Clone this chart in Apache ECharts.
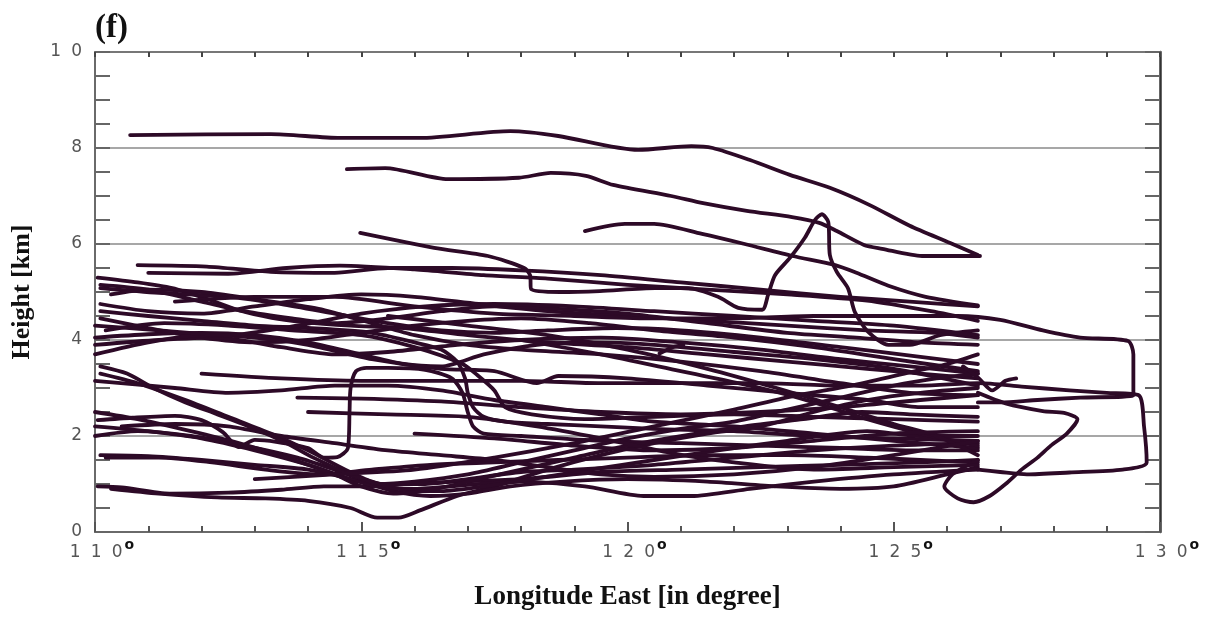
<!DOCTYPE html>
<html><head><meta charset="utf-8">
<script src="https://cdn.jsdelivr.net/npm/echarts@6/dist/echarts.min.js"></script>
<style>html,body{margin:0;padding:0;background:#fff}#c{width:1209px;height:622px}</style>
</head><body><div id="c"></div>
<script>
// ---- tick labels ----
const xTickValues = [110, 115, 120, 125, 130];
const yTickValues = [0, 2, 4, 6, 8, 10];
const titleText = '(f)';
const xAxisTitle = 'Longitude East [in degree]';
const yAxisTitle = 'Height [km]';

// ---- trajectories: [longitude East (deg), height (km)] ----
const traj01 = [[110.66,8.27],[113.3,8.29],[114.6,8.21],[116.1,8.21],[117.8,8.35],[118.7,8.25],[120.2,7.96],[121.2,8.04],[121.6,8.0],[122.3,7.75],[123.05,7.44],[123.8,7.17],[124.55,6.81],[125.3,6.38],[126.06,6.02],[126.58,5.77]];
const traj02 = [[114.73,7.56],[115.45,7.58],[116.63,7.35],[117.96,7.38],[118.56,7.48],[119.22,7.42],[119.73,7.23],[120.82,7.0],[121.42,6.85],[122.24,6.69],[123.09,6.56],[123.6,6.44],[123.93,6.27],[124.44,5.98],[124.78,5.9],[125.53,5.75],[126.62,5.75]];
const traj03 = [[119.2,6.27],[119.95,6.42],[120.5,6.42],[121.4,6.21],[122.2,6.0],[123.1,5.75],[123.9,5.56],[124.3,5.4],[124.9,5.13],[125.6,4.9],[126.58,4.72]];
const traj04 = [[114.98,6.23],[116.37,5.92],[117.38,5.75],[118.06,5.5],[118.17,5.35],[118.19,5.06],[118.73,5.0],[119.48,5.02],[120.52,5.08],[121.14,5.08],[121.7,4.9],[122.08,4.67],[122.53,4.63],[122.64,4.94],[122.77,5.35],[123.05,5.71],[123.33,6.13],[123.52,6.5],[123.65,6.62],[123.77,6.46],[123.8,5.77],[123.93,5.42],[124.14,5.08],[124.27,4.58],[124.52,4.17],[124.9,3.9],[125.3,3.9],[125.87,4.1],[126.58,4.2]];
const traj05 = [[110.8,5.56],[112.1,5.53],[113.3,5.42],[114.5,5.4],[115.5,5.5],[116.7,5.5],[118.0,5.45],[119.5,5.35],[121.0,5.2],[122.5,5.05],[124.0,4.9],[125.3,4.8],[126.58,4.7]];
const traj06 = [[111.0,5.4],[112.5,5.38],[113.6,5.5],[114.6,5.55],[116.0,5.47],[117.3,5.35],[118.5,5.28],[120.0,5.15],[121.5,5.05],[123.0,4.95],[124.5,4.82],[125.7,4.6],[126.58,4.4]];
const traj07 = [[110.05,5.3],[110.8,5.2],[111.45,5.08],[112.07,4.87],[112.7,4.62],[113.32,4.46],[113.85,4.38],[114.8,4.3],[115.8,4.25],[117.0,4.1],[118.5,3.95],[120.0,3.85],[121.5,3.7],[123.0,3.55],[124.5,3.4],[125.5,3.3],[126.58,3.2]];
const traj08 = [[110.1,5.08],[111.2,4.98],[112.5,4.9],[113.5,4.75],[114.5,4.55],[115.5,4.35],[116.5,4.2],[117.5,4.15],[118.5,4.2],[119.8,4.25],[121.0,4.2],[122.5,4.05],[124.0,3.85],[125.5,3.65],[126.58,3.5]];
const traj09 = [[110.3,4.95],[111.0,5.05],[112.0,5.0],[113.0,4.85],[114.2,4.65],[115.2,4.35],[116.0,4.1],[117.0,3.9],[118.0,3.8],[119.5,3.7],[121.0,3.55],[122.5,3.35],[124.0,3.1],[125.3,2.9],[126.58,2.85]];
const traj10 = [[110.1,4.75],[111.0,4.6],[112.0,4.55],[113.0,4.7],[114.0,4.85],[115.0,4.95],[116.0,4.9],[117.2,4.75],[118.5,4.6],[120.0,4.5],[121.5,4.4],[123.0,4.3],[124.5,4.2],[125.8,4.15],[126.58,4.05]];
const traj11 = [[110.1,4.45],[111.0,4.25],[112.0,4.05],[113.0,3.95],[114.0,4.0],[115.0,4.15],[116.0,4.3],[117.0,4.4],[118.0,4.45],[119.3,4.35],[120.5,4.2],[122.0,4.05],[123.5,3.85],[125.0,3.6],[126.58,3.35]];
const traj12 = [[110.0,4.05],[111.0,4.12],[112.0,4.15],[113.0,4.1],[114.0,3.95],[115.0,3.7],[115.8,3.5],[116.5,3.45],[117.3,3.7],[118.3,3.9],[119.3,3.95],[120.5,3.9],[122.0,3.75],[123.5,3.6],[125.0,3.4],[126.58,3.05]];
const traj13 = [[110.0,3.9],[111.2,4.0],[112.3,4.05],[113.5,3.85],[114.5,3.7],[115.5,3.75],[116.8,3.9],[118.0,4.0],[119.5,4.05],[121.0,3.95],[122.5,3.8],[124.0,3.6],[125.3,3.45],[126.58,3.3]];
const traj14 = [[110.0,3.7],[111.0,3.95],[112.0,4.1],[113.0,4.05],[114.0,3.9],[115.2,3.6],[116.5,3.4],[117.5,3.35],[118.3,3.1],[118.7,3.25],[120.0,3.2],[121.5,3.05],[123.0,2.9],[124.5,2.75],[125.5,2.6],[126.58,2.6]];
const traj15 = [[110.1,4.6],[111.0,4.5],[112.0,4.4],[113.0,4.3],[114.0,4.25],[115.2,4.15],[116.0,3.95],[116.5,3.8],[116.8,3.55],[116.95,3.2],[117.0,2.9],[117.1,2.6],[117.3,2.4],[117.7,2.3],[118.5,2.25],[119.5,2.2],[120.5,2.15],[122.0,2.1],[123.5,2.0],[125.0,1.95],[126.58,1.9]];
const traj16 = [[110.2,4.2],[111.3,4.35],[112.5,4.3],[113.7,4.2],[115.0,4.1],[116.0,3.85],[116.9,3.5],[117.2,3.25],[117.5,2.95],[117.7,2.6],[118.2,2.45],[119.2,2.35],[120.5,2.4],[122.0,2.45],[123.5,2.4],[125.0,2.35],[126.58,2.3]];
const traj17 = [[110.05,2.33],[110.7,2.38],[111.5,2.42],[112.0,2.33],[112.4,2.08],[112.7,1.77],[113.0,1.92],[113.4,1.88],[114.0,1.75],[114.3,1.55],[114.55,1.56],[114.75,1.75],[114.78,2.5],[114.8,3.0],[114.9,3.35],[115.1,3.42],[115.5,3.42],[116.2,3.38],[116.7,3.2],[116.9,2.9],[117.0,2.5],[117.1,2.2],[117.3,2.05],[118.0,2.0],[119.5,1.9],[121.0,1.85],[122.5,1.8],[124.0,1.75],[125.5,1.7],[126.58,1.7]];
const traj18 = [[110.05,0.95],[110.5,0.93],[111.4,0.8],[112.5,0.82],[113.5,0.88],[114.3,0.95],[115.0,0.95],[115.8,1.0],[116.8,1.05],[118.0,1.1],[119.5,1.25],[121.0,1.3],[122.5,1.35],[124.0,1.4],[125.5,1.45],[126.58,1.5]];
const traj19 = [[110.3,0.9],[111.2,0.8],[112.3,0.72],[113.2,0.7],[114.0,0.65],[114.8,0.5],[115.3,0.3],[115.7,0.3],[116.1,0.45],[116.8,0.75],[117.5,0.95],[118.5,1.3],[119.5,1.6],[120.5,1.85],[121.5,2.05],[122.5,2.2],[123.5,2.5],[124.5,2.75],[125.5,2.9],[126.58,3.0]];
const traj20 = [[110.1,1.6],[111.0,1.58],[112.0,1.5],[113.0,1.4],[114.0,1.3],[115.0,1.05],[115.6,0.85],[116.3,0.75],[117.0,0.8],[117.8,0.95],[118.8,1.05],[120.0,1.1],[121.5,1.05],[122.8,0.95],[124.0,0.9],[125.0,0.95],[126.0,1.2],[126.58,1.35]];
const traj21 = [[110.0,2.2],[111.0,2.1],[112.0,1.95],[113.0,1.7],[114.0,1.4],[114.8,1.1],[115.3,0.95],[116.0,0.9],[117.0,0.98],[118.0,1.05],[119.2,0.95],[120.3,0.75],[121.2,0.75],[122.3,0.9],[123.5,1.05],[125.0,1.2],[126.58,1.3]];
const traj22 = [[110.0,2.0],[110.8,2.1],[111.8,2.0],[112.8,1.8],[113.8,1.55],[114.5,1.3],[115.0,1.1],[115.3,1.0],[116.0,1.05],[117.0,1.2],[118.0,1.45],[119.0,1.7],[120.0,1.95],[121.0,2.15],[122.0,2.3],[123.0,2.55],[124.0,2.8],[125.0,3.05],[125.8,3.2],[126.58,3.3]];
const traj23 = [[110.1,3.3],[110.8,3.1],[111.7,2.75],[112.5,2.4],[113.3,2.05],[114.0,1.7],[114.7,1.3],[115.2,1.05],[115.8,0.88],[116.5,0.85],[117.3,0.95],[118.2,1.1],[119.3,1.3],[120.5,1.5],[121.7,1.7],[123.0,1.9],[124.5,2.1],[125.5,2.0],[126.58,2.0]];
const traj24 = [[110.1,3.45],[110.6,3.3],[111.1,3.0],[111.7,2.7],[112.3,2.45],[113.0,2.15],[113.6,1.85],[114.1,1.55],[114.8,1.2],[115.4,1.0],[116.2,1.0],[117.0,1.1],[118.0,1.25],[119.0,1.3],[120.5,1.4],[122.0,1.55],[123.5,1.7],[125.0,1.8],[126.58,1.85]];
const traj25 = [[110.0,2.5],[110.8,2.35],[111.8,2.1],[112.7,1.85],[113.6,1.55],[114.5,1.2],[115.0,0.95],[115.6,0.8],[116.4,0.9],[117.2,1.1],[118.0,1.3],[119.0,1.55],[120.0,1.8],[121.0,2.0],[122.2,2.2],[123.3,2.35],[124.4,2.5],[125.3,2.45],[126.58,2.4]];
const traj26 = [[110.2,1.55],[111.2,1.55],[112.2,1.45],[113.2,1.3],[114.2,1.2],[115.2,1.3],[116.3,1.4],[117.5,1.45],[118.7,1.5],[120.0,1.55],[121.5,1.6],[123.0,1.6],[124.5,1.55],[125.5,1.5],[126.58,1.45]];
const traj27 = [[113.8,2.8],[115.0,2.78],[116.5,2.72],[118.0,2.6],[119.5,2.5],[121.0,2.45],[122.5,2.5],[124.0,2.6],[125.5,2.75],[126.58,2.85]];
const traj28 = [[110.0,3.15],[111.5,3.0],[112.5,2.9],[113.5,2.95],[114.5,3.05],[115.5,3.05],[116.5,2.95],[117.5,2.75],[118.5,2.6],[119.5,2.45],[120.5,2.3],[122.0,2.2],[123.5,2.05],[125.0,1.9],[126.58,1.75]];
const traj29 = [[111.5,4.8],[113.0,4.9],[114.5,4.9],[116.0,4.7],[117.5,4.55],[119.0,4.5],[120.5,4.45],[122.0,4.45],[123.5,4.5],[125.0,4.5],[126.2,4.5],[127.0,4.42],[127.8,4.2],[128.5,4.05],[129.4,3.98],[129.5,3.7],[129.5,2.85],[128.5,2.8],[127.7,2.75],[127.0,2.7],[126.58,2.7]];
const traj30 = [[112.0,3.3],[113.5,3.2],[115.0,3.15],[116.5,3.15],[118.0,3.15],[119.5,3.1],[121.0,3.1],[122.5,3.1],[124.0,3.05],[125.5,3.05],[126.6,3.1],[127.4,3.03],[128.3,2.95],[129.0,2.9],[129.6,2.85],[129.7,2.2],[129.75,1.45],[129.3,1.3],[128.3,1.24],[127.5,1.2],[127.0,1.25],[126.58,1.3]];
const traj31 = [[126.58,2.9],[127.1,2.68],[127.8,2.52],[128.2,2.48],[128.45,2.35],[128.25,2.05],[127.95,1.8],[127.7,1.55],[127.4,1.3],[127.1,1.0],[126.8,0.75],[126.5,0.62],[126.2,0.7],[125.95,0.95],[126.1,1.2],[126.4,1.4],[126.58,1.5]];
const traj32 = [[126.3,3.45],[126.6,3.2],[126.85,2.95],[127.1,3.15],[127.3,3.2]];
const traj33 = [[118.0,4.0],[119.5,3.7],[121.0,3.35],[122.5,3.0],[123.5,2.7],[124.5,2.35],[125.5,2.05],[126.58,1.8]];
const traj34 = [[115.5,4.5],[117.0,4.3],[118.5,4.1],[120.0,3.8],[121.5,3.4],[122.8,3.0],[124.0,2.6],[125.0,2.25],[125.8,2.0],[126.58,1.6]];
const traj35 = [[113.0,1.1],[114.5,1.2],[116.0,1.3],[117.5,1.55],[119.0,1.85],[120.5,2.2],[122.0,2.55],[123.2,2.85],[124.2,3.05],[125.2,3.3],[126.0,3.5],[126.58,3.7]];
const traj36 = [[114.0,2.5],[115.5,2.45],[117.0,2.4],[118.3,2.2],[119.5,1.95],[120.8,1.65],[122.0,1.45],[123.5,1.3],[125.0,1.35],[126.58,1.4]];
const traj37 = [[110.1,5.15],[111.0,5.05],[112.0,4.8],[112.8,4.6],[113.7,4.45],[114.5,4.35],[115.5,4.45],[116.5,4.6],[117.5,4.7],[118.7,4.65],[120.0,4.55],[121.5,4.35],[123.0,4.15],[124.3,4.05],[125.5,3.95],[126.58,3.9]];
const traj38 = [[120.6,3.72],[120.85,3.85],[121.05,3.9]];
const traj39 = [[110.0,4.3],[111.2,4.2],[112.5,4.1],[113.8,4.3],[115.0,4.55],[116.2,4.7],[117.5,4.75],[119.0,4.7],[120.5,4.6],[122.0,4.5],[123.5,4.4],[125.0,4.3],[126.58,4.1]];
const traj40 = [[110.5,2.2],[111.5,2.25],[112.5,2.2],[113.5,2.0],[114.5,1.85],[115.5,1.7],[116.5,1.6],[117.5,1.5],[118.5,1.35],[119.5,1.2],[120.5,1.15],[122.0,1.2],[123.5,1.35],[125.0,1.6],[126.58,1.9]];
const traj41 = [[116.0,2.05],[117.5,1.95],[119.0,1.8],[120.5,1.7],[122.0,1.75],[123.5,1.9],[125.0,2.05],[126.58,2.1]];

const trajectories = [traj01,traj02,traj03,traj04,traj05,traj06,traj07,traj08,traj09,traj10,
  traj11,traj12,traj13,traj14,traj15,traj16,traj17,traj18,traj19,traj20,
  traj21,traj22,traj23,traj24,traj25,traj26,traj27,traj28,traj29,traj30,
  traj31,traj32,traj33,traj34,traj35,traj36,traj37,traj38,traj39,traj40,traj41];

const LINE_COLOR = '#2d0a27';
const spaced = v => String(v).split('').join('\u2002\u200A');

const chart = echarts.init(document.getElementById('c'), null, {renderer: 'canvas'});
chart.setOption({
  animation: false,
  backgroundColor: '#fff',
  title: {
    text: titleText, left: 90, top: 7,
    textStyle: {fontFamily: 'Liberation Serif', fontWeight: 'bold', fontSize: 33, color: '#111'}
  },
  grid: {left: 95, top: 52, width: 1065, height: 480, containLabel: false},
  xAxis: [{
    type: 'value', position: 'bottom', min: 110, max: 130, interval: 5,
    name: xAxisTitle, nameLocation: 'middle', nameGap: 52,
    nameTextStyle: {fontFamily: 'Liberation Serif', fontWeight: 'bold', fontSize: 27, color: '#111'},
    axisLine: {show: true, onZero: false, lineStyle: {color: '#6a6a6a', width: 2}},
    axisTick: {show: true, inside: true, length: 10, lineStyle: {color: '#555', width: 2}},
    minorTick: {show: true, splitNumber: 5, length: 6, lineStyle: {color: '#555', width: 2}},
    splitLine: {show: false},
    axisLabel: {
      margin: 6,
      formatter: v => xTickValues.indexOf(v) >= 0 ? '{n|' + spaced(v) + '}{d|o}' : '',
      rich: {
        n: {fontFamily: 'DejaVu Sans', fontSize: 17, color: '#555', padding: [0, 0, 0, 14]},
        d: {fontFamily: 'DejaVu Sans', fontSize: 14, fontWeight: 'bold', color: '#111', padding: [0, 0, 16, 2]}
      }
    }
  }, {
    type: 'value', position: 'top', min: 110, max: 130, interval: 1,
    axisLine: {show: true, onZero: false, lineStyle: {color: '#777', width: 2}},
    axisTick: {show: true, inside: true, length: 5, lineStyle: {color: '#444', width: 2}},
    axisLabel: {show: false}, splitLine: {show: false}
  }],
  yAxis: [{
    type: 'value', position: 'left', min: 0, max: 10, interval: 2,
    name: yAxisTitle, nameLocation: 'middle', nameGap: 60, nameRotate: 90,
    nameTextStyle: {fontFamily: 'Liberation Serif', fontWeight: 'bold', fontSize: 26, color: '#111'},
    axisLine: {show: true, onZero: false, lineStyle: {color: '#6a6a6a', width: 2}},
    axisTick: {show: true, inside: true, length: 15, lineStyle: {color: '#666', width: 2}},
    minorTick: {show: true, splitNumber: 4, length: 15, lineStyle: {color: '#666', width: 2}},
    splitLine: {show: true, lineStyle: {color: '#8a8a8a', width: 1.5}},
    axisLabel: {
      margin: 13,
      formatter: v => yTickValues.indexOf(v) >= 0 ? spaced(v) : '',
      fontFamily: 'DejaVu Sans', fontSize: 17, color: '#555'
    }
  }, {
    type: 'value', position: 'right', min: 0, max: 10, interval: 2,
    axisLine: {show: true, onZero: false, lineStyle: {color: '#333', width: 2.5}},
    axisTick: {show: true, inside: true, length: 15, lineStyle: {color: '#666', width: 2}},
    minorTick: {show: true, splitNumber: 4, length: 15, lineStyle: {color: '#666', width: 2}},
    splitLine: {show: false},
    axisLabel: {show: false}
  }],
  series: trajectories.map((t, i) => ({
    type: 'line', name: 'traj' + (i + 1), xAxisIndex: 0, yAxisIndex: 0,
    data: t, showSymbol: false, symbol: 'none', smooth: 0.25,
    lineStyle: {color: LINE_COLOR, width: 3.8, cap: 'round', join: 'round'},
    emphasis: {disabled: true}, z: 3, clip: true
  }))
});
</script></body></html>
